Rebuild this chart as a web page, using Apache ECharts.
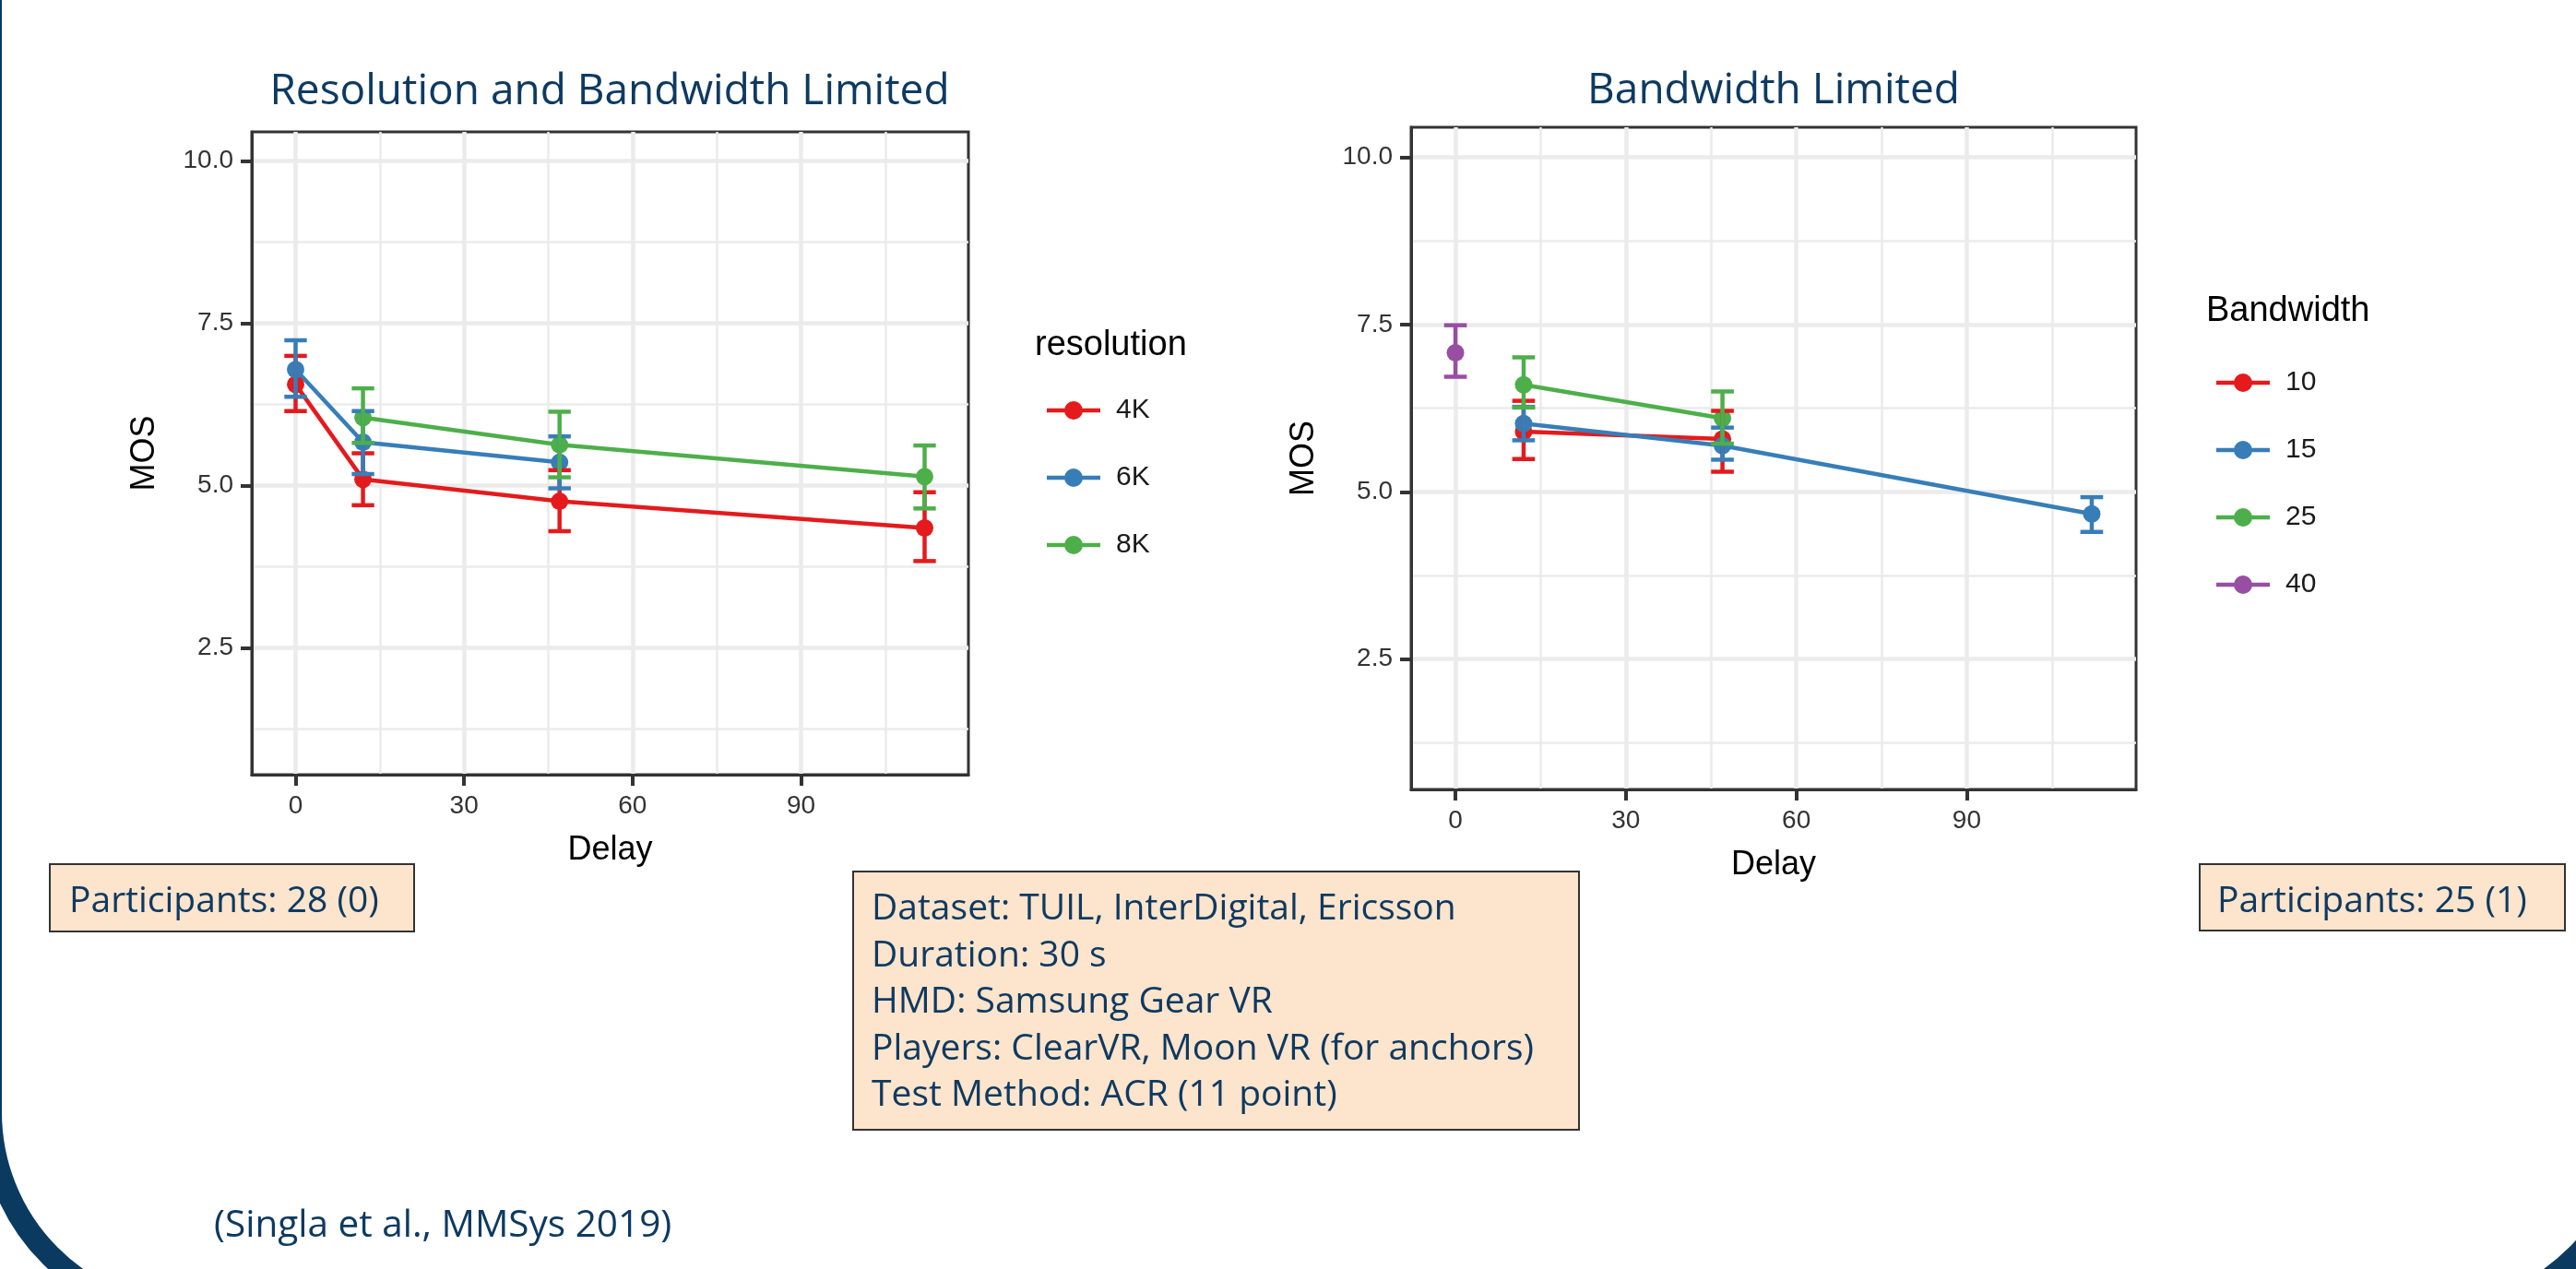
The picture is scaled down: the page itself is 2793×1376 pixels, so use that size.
<!DOCTYPE html>
<html>
<head>
<meta charset="utf-8">
<script src="https://cdn.jsdelivr.net/npm/echarts@6/dist/echarts.min.js"></script>
<style>html,body{margin:0;padding:0;background:#fff;}#c{width:2793px;height:1376px;}</style>
</head>
<body>
<div id="c"></div>
<script>
// ---------- data ----------
const titleLeft = 'Resolution and Bandwidth Limited';
const titleRight = 'Bandwidth Limited';
const legendTitleLeft = 'resolution';
const legendTitleRight = 'Bandwidth';
const yTickValues = [2.5, 5.0, 7.5, 10.0];
const yMinorGrid = [1.25, 3.75, 6.25, 8.75];
const xTickValues = [0, 30, 60, 90];
const xMinorGrid = [15, 45, 75, 105];

// left panel: resolution
const resNames = ['4K', '6K', '8K'];
const res4K_x = [0, 12, 47, 112];
const res4K_mean = [6.56, 5.10, 4.76, 4.35];
const res4K_lo = [6.15, 4.70, 4.30, 3.84];
const res4K_hi = [7.00, 5.50, 5.24, 4.90];
const res6K_x = [0, 12, 47];
const res6K_mean = [6.79, 5.67, 5.36];
const res6K_lo = [6.37, 5.18, 4.96];
const res6K_hi = [7.24, 6.15, 5.76];
const res8K_x = [12, 47, 112];
const res8K_mean = [6.05, 5.63, 5.14];
const res8K_lo = [5.66, 5.13, 4.65];
const res8K_hi = [6.50, 6.14, 5.62];

// right panel: bandwidth
const bwNames = ['10', '15', '25', '40'];
const bw10_x = [12, 47];
const bw10_mean = [5.90, 5.79];
const bw10_lo = [5.49, 5.30];
const bw10_hi = [6.36, 6.21];
const bw15_x = [12, 47, 112];
const bw15_mean = [6.02, 5.69, 4.67];
const bw15_lo = [5.77, 5.48, 4.40];
const bw15_hi = [6.27, 5.96, 4.92];
const bw25_x = [12, 47];
const bw25_mean = [6.60, 6.10];
const bw25_lo = [6.26, 5.72];
const bw25_hi = [7.01, 6.50];
const bw40_x = [0];
const bw40_mean = [7.08];
const bw40_lo = [6.72];
const bw40_hi = [7.49];

const infoLines = [
  'Dataset: TUIL, InterDigital, Ericsson',
  'Duration: 30 s',
  'HMD: Samsung Gear VR',
  'Players: ClearVR, Moon VR (for anchors)',
  'Test Method: ACR (11 point)'
];
const participantsLeft = 'Participants: 28 (0)';
const participantsRight = 'Participants: 25 (1)';
const citation = '(Singla et al., MMSys 2019)';

// ---------- styles ----------
const colors = {'4K':'#E41A1C','6K':'#377EB8','8K':'#4DAF4A','10':'#E41A1C','15':'#377EB8','25':'#4DAF4A','40':'#984EA3'};
const uiFont = '"Open Sans", "Noto Sans", sans-serif';
const rFont = '"Liberation Sans", Arial, sans-serif';
const navy = '#0e3a61';
const ERR_W = 4; // errorbar width in data units
const legendIcon = 'path://M0,7.8 L58,7.8 L58,12.2 L0,12.2 Z M19,10 A10,10 0 1,1 39,10 A10,10 0 1,1 19,10 Z';

const chart = echarts.init(document.getElementById('c'));

function zip(xs, ys) { return xs.map((x, i) => [x, ys[i]]); }
function zipErr(xs, m, lo, hi) { return xs.map((x, i) => [x, m[i], lo[i], hi[i]]); }

function gridSeries(idx) {
  const major = { width: 4.5, color: '#ebebeb', type: 'solid' };
  const minor = { width: 2.5, color: '#ebebeb', type: 'solid' };
  const d = [];
  xTickValues.forEach(v => d.push({ xAxis: v, lineStyle: major }));
  xMinorGrid.forEach(v => d.push({ xAxis: v, lineStyle: minor }));
  yTickValues.forEach(v => d.push({ yAxis: v, lineStyle: major }));
  yMinorGrid.forEach(v => d.push({ yAxis: v, lineStyle: minor }));
  return {
    type: 'line', name: 'grid' + idx, xAxisIndex: idx, yAxisIndex: idx, data: [], silent: true, z: 0,
    markLine: { silent: true, z: 0, zlevel: 0, symbol: ['none', 'none'], label: { show: false }, animation: false, data: d }
  };
}

function lineSeries(name, idx, xs, m) {
  return {
    type: 'line', name, xAxisIndex: idx, yAxisIndex: idx, data: zip(xs, m),
    symbol: 'circle', symbolSize: 19, z: 3,
    itemStyle: { color: colors[name] },
    lineStyle: { color: colors[name], width: 4.5 },
    animation: false
  };
}

function errSeries(name, idx, xs, m, lo, hi) {
  return {
    type: 'custom', name: 'err' + name + '_' + idx, xAxisIndex: idx, yAxisIndex: idx, z: 4,
    data: zipErr(xs, m, lo, hi),
    animation: false,
    renderItem: function (params, api) {
      const x = api.value(0), lo = api.value(2), hi = api.value(3);
      const pLo = api.coord([x, lo]), pHi = api.coord([x, hi]);
      const lLo = api.coord([x - ERR_W / 2, lo]), rLo = api.coord([x + ERR_W / 2, lo]);
      const lHi = api.coord([x - ERR_W / 2, hi]), rHi = api.coord([x + ERR_W / 2, hi]);
      const st = { stroke: colors[name], lineWidth: 4.5 };
      return {
        type: 'group', children: [
          { type: 'line', shape: { x1: pLo[0], y1: pLo[1], x2: pHi[0], y2: pHi[1] }, style: st },
          { type: 'line', shape: { x1: lLo[0], y1: lLo[1], x2: rLo[0], y2: rLo[1] }, style: st },
          { type: 'line', shape: { x1: lHi[0], y1: lHi[1], x2: rHi[0], y2: rHi[1] }, style: st }
        ]
      };
    }
  };
}

function xAxisDef(idx) {
  return {
    type: 'value', gridIndex: idx, min: -7.8, max: 119.8, z: 10,
    name: 'Delay', nameLocation: 'middle', nameGap: 64,
    nameTextStyle: { fontFamily: rFont, fontSize: 36, color: '#000' },
    axisLine: { show: true, onZero: false, lineStyle: { color: '#333', width: 3 } },
    axisTick: { show: true, length: 12, lineStyle: { color: '#333', width: 4 }, customValues: xTickValues },
    axisLabel: { fontFamily: rFont, fontSize: 28, color: '#333', margin: 20, customValues: xTickValues },
    splitLine: { show: false }
  };
}
function yAxisDef(idx) {
  return {
    type: 'value', gridIndex: idx, min: 0.55, max: 10.45, z: 10,
    name: 'MOS', nameLocation: 'middle', nameGap: 98,
    nameTextStyle: { fontFamily: rFont, fontSize: 36, color: '#000' },
    axisLine: { show: true, onZero: false, lineStyle: { color: '#333', width: 3 } },
    axisTick: { show: true, length: 12, lineStyle: { color: '#333', width: 4 }, customValues: yTickValues },
    axisLabel: { fontFamily: rFont, fontSize: 28, color: '#333', margin: 20, customValues: yTickValues,
      formatter: v => v.toFixed(1) },
    splitLine: { show: false }
  };
}

const graphics = [
  { type: 'rect', silent: true, z: 100, shape: { x: -10, y: -600, width: 2868, height: 2026, r: 220 },
    style: { fill: 'none', stroke: '#0b3a61', lineWidth: 24 } },
  { type: 'text', x: 661, y: 100, style: { text: titleLeft, fontFamily: uiFont, fontSize: 46, fill: navy, align: 'center', verticalAlign: 'middle' } },
  { type: 'text', x: 1923, y: 99, style: { text: titleRight, fontFamily: uiFont, fontSize: 46, fill: navy, align: 'center', verticalAlign: 'middle' } },
  { type: 'text', x: 1122, y: 375, style: { text: legendTitleLeft, fontFamily: rFont, fontSize: 38, fill: '#000', align: 'left', verticalAlign: 'middle' } },
  { type: 'text', x: 2392, y: 338, style: { text: legendTitleRight, fontFamily: rFont, fontSize: 38, fill: '#000', align: 'left', verticalAlign: 'middle' } },
  { type: 'rect', shape: { x: 54, y: 937, width: 395, height: 73 }, style: { fill: '#fde4cc', stroke: '#333', lineWidth: 2 } },
  { type: 'text', x: 75, y: 978, style: { text: participantsLeft, fontFamily: uiFont, fontSize: 39, fill: navy, align: 'left', verticalAlign: 'middle' } },
  { type: 'rect', shape: { x: 925, y: 945, width: 787, height: 280 }, style: { fill: '#fde4cc', stroke: '#333', lineWidth: 2 } },
  { type: 'rect', shape: { x: 2385, y: 937, width: 396, height: 72 }, style: { fill: '#fde4cc', stroke: '#333', lineWidth: 2 } },
  { type: 'text', x: 2404, y: 978, style: { text: participantsRight, fontFamily: uiFont, fontSize: 39, fill: navy, align: 'left', verticalAlign: 'middle' } },
  { type: 'text', x: 232, y: 1329, style: { text: citation, fontFamily: uiFont, fontSize: 40.5, fill: navy, align: 'left', verticalAlign: 'middle' } }
];
infoLines.forEach((t, i) => {
  graphics.push({ type: 'text', x: 945, y: 986 + i * 50.5, style: { text: t, fontFamily: uiFont, fontSize: 39, fill: navy, align: 'left', verticalAlign: 'middle' } });
});

const legendCommon = {
  orient: 'vertical', selectedMode: false, itemWidth: 58, itemHeight: 20, icon: legendIcon,
  textStyle: { fontFamily: rFont, fontSize: 30, color: '#1a1a1a', padding: [0, 0, 0, 12] }
};

const option = {
  backgroundColor: '#fff',
  animation: false,
  grid: [
    { left: 273, top: 143, width: 777, height: 697, show: true, borderColor: '#333', borderWidth: 3, backgroundColor: '#fff', containLabel: false },
    { left: 1530, top: 138, width: 786, height: 718, show: true, borderColor: '#333', borderWidth: 3, backgroundColor: '#fff', containLabel: false }
  ],
  xAxis: [xAxisDef(0), xAxisDef(1)],
  yAxis: [yAxisDef(0), yAxisDef(1)],
  legend: [
    Object.assign({}, legendCommon, { data: resNames, left: 1130, top: 425, itemGap: 43 }),
    Object.assign({}, legendCommon, { data: bwNames, left: 2398, top: 395, itemGap: 43 })
  ],
  graphic: graphics,
  series: [
    gridSeries(0), gridSeries(1),
    lineSeries('4K', 0, res4K_x, res4K_mean),
    lineSeries('6K', 0, res6K_x, res6K_mean),
    lineSeries('8K', 0, res8K_x, res8K_mean),
    errSeries('4K', 0, res4K_x, res4K_mean, res4K_lo, res4K_hi),
    errSeries('6K', 0, res6K_x, res6K_mean, res6K_lo, res6K_hi),
    errSeries('8K', 0, res8K_x, res8K_mean, res8K_lo, res8K_hi),
    lineSeries('10', 1, bw10_x, bw10_mean),
    lineSeries('15', 1, bw15_x, bw15_mean),
    lineSeries('25', 1, bw25_x, bw25_mean),
    lineSeries('40', 1, bw40_x, bw40_mean),
    errSeries('10', 1, bw10_x, bw10_mean, bw10_lo, bw10_hi),
    errSeries('15', 1, bw15_x, bw15_mean, bw15_lo, bw15_hi),
    errSeries('25', 1, bw25_x, bw25_mean, bw25_lo, bw25_hi),
    errSeries('40', 1, bw40_x, bw40_mean, bw40_lo, bw40_hi)
  ]
};
chart.setOption(option);
</script>
</body>
</html>
